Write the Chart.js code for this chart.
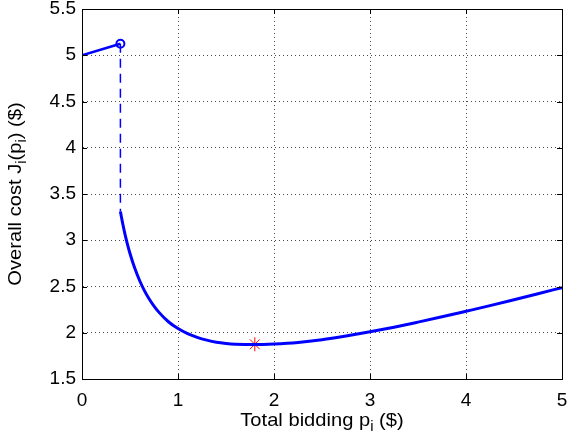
<!DOCTYPE html>
<html>
<head>
<meta charset="utf-8">
<script src="https://cdn.jsdelivr.net/npm/chart.js@4.4.0/dist/chart.umd.min.js"></script>
<style>
  html, body { margin: 0; padding: 0; background: #fff; }
</style>
</head>
<body>
<canvas id="costChart" width="573" height="441"></canvas>
<script>
// tick positions
const xTicks = [0, 1, 2, 3, 4, 5];
const yTicks = [1.5, 2, 2.5, 3, 3.5, 4, 4.5, 5, 5.5];

// left branch, before the jump
const leftX = [0, 0.4];
const leftY = [5.0, 5.125];

// the jump (dashed)
const jumpX = [0.4, 0.4];
const jumpY = [5.125, 3.31];

// right branch of the cost curve
const costX = [0.4, 0.425, 0.45, 0.475, 0.5, 0.55, 0.6, 0.65, 0.7, 0.75, 0.8, 0.9, 1.0, 1.1, 1.2, 1.3, 1.4, 1.5, 1.6, 1.8, 2.0, 2.25, 2.5, 2.75, 3.0, 3.25, 3.5, 3.75, 4.0, 4.25, 4.5, 4.75, 5.0];
const costY = [3.31, 3.175, 3.056, 2.951, 2.857, 2.696, 2.565, 2.456, 2.365, 2.288, 2.223, 2.119, 2.045, 1.99, 1.95, 1.92, 1.898, 1.885, 1.877, 1.872, 1.878, 1.895, 1.925, 1.965, 2.01, 2.06, 2.115, 2.172, 2.232, 2.293, 2.357, 2.422, 2.488];

// optimum marker
const optX = [1.8];
const optY = [1.875];

const FONT = '"Liberation Sans", Arial, Helvetica, sans-serif';

function toPoints(xs, ys) {
    return xs.map((x, i) => ({ x: x, y: ys[i] }));
}

// draws text with subscripts, centred on x, baseline y (slightly widened like the original)
function drawParts(ctx, parts, x, y) {
    const big = '19px ' + FONT, small = '14px ' + FONT;
    const stretch = 1.06;
    let total = 0;
    parts.forEach(p => {
        ctx.font = p[1] ? small : big;
        total += ctx.measureText(p[0]).width;
    });
    ctx.save();
    ctx.translate(x, y);
    ctx.scale(stretch, 1);
    let cx = -total / 2;
    ctx.textAlign = 'left';
    ctx.textBaseline = 'alphabetic';
    parts.forEach(p => {
        ctx.font = p[1] ? small : big;
        ctx.fillText(p[0], cx, p[1] ? 5 : 0);
        cx += ctx.measureText(p[0]).width;
    });
    ctx.restore();
}

const matlabFrame = {
    id: 'matlabFrame',
    afterDatasetsDraw(chart) {
        const ctx = chart.ctx;
        const a = chart.chartArea;
        const xs = chart.scales.x, ys = chart.scales.y;
        ctx.save();
        ctx.strokeStyle = '#000';
        ctx.lineWidth = 1;
        ctx.beginPath();
        xTicks.forEach(v => {
            const px = Math.round(xs.getPixelForValue(v)) + 0.5;
            ctx.moveTo(px, a.bottom); ctx.lineTo(px, a.bottom - 5);
            ctx.moveTo(px, a.top); ctx.lineTo(px, a.top + 5);
        });
        yTicks.forEach(v => {
            const py = Math.round(ys.getPixelForValue(v)) + 0.5;
            ctx.moveTo(a.left, py); ctx.lineTo(a.left + 5, py);
            ctx.moveTo(a.right, py); ctx.lineTo(a.right - 5, py);
        });
        ctx.stroke();
        ctx.strokeRect(Math.round(a.left) + 0.5, Math.round(a.top) + 0.5,
            Math.round(a.right - a.left), Math.round(a.bottom - a.top));

        ctx.fillStyle = '#000';
        drawParts(ctx, [['Total bidding p', false], ['i', true], [' ($)', false]],
            (a.left + a.right) / 2, 426);
        ctx.translate(21, (a.top + a.bottom) / 2);
        ctx.rotate(-Math.PI / 2);
        drawParts(ctx, [['Overall cost J', false], ['i', true], ['(p', false], ['i', true], [') ($)', false]], 0, 0);
        ctx.restore();
    }
};

new Chart(document.getElementById('costChart'), {
    type: 'scatter',
    data: {
        datasets: [
            {
                data: toPoints(leftX, leftY),
                showLine: true,
                borderColor: '#0000ff',
                borderWidth: 2.5,
                pointRadius: 0
            },
            {
                data: toPoints(jumpX, jumpY),
                showLine: true,
                borderColor: '#0000ff',
                borderWidth: 1.5,
                borderDash: [9, 6],
                pointRadius: 0
            },
            {
                data: toPoints(costX, costY),
                showLine: true,
                borderColor: '#0000ff',
                borderWidth: 3,
                cubicInterpolationMode: 'monotone',
                pointRadius: 0
            },
            {
                data: [{ x: leftX[1], y: leftY[1] }],
                pointStyle: 'circle',
                pointRadius: 4,
                borderWidth: 2,
                borderColor: '#0000ff',
                backgroundColor: 'rgba(0,0,0,0)'
            },
            {
                data: toPoints(optX, optY),
                pointStyle: 'star',
                pointRadius: 7,
                borderWidth: 1,
                borderColor: '#ff0000',
                backgroundColor: '#ff0000'
            }
        ]
    },
    options: {
        responsive: false,
        animation: false,
        layout: { padding: { left: 0, right: 11, top: 9, bottom: 0 } },
        plugins: { legend: { display: false }, tooltip: { enabled: false } },
        scales: {
            x: {
                type: 'linear',
                min: 0, max: 5,
                afterBuildTicks: s => { s.ticks = xTicks.map(v => ({ value: v })); },
                afterFit: s => { s.height = 62; s.paddingLeft = 0; s.paddingRight = 0; },
                grid: { color: 'rgba(0,0,0,0.7)', drawTicks: false },
                border: { display: true, color: '#000', dash: [1, 3] },
                ticks: { color: '#000', padding: 10, font: { family: FONT, size: 19 },
                    callback: v => String(v) }
            },
            y: {
                type: 'linear',
                min: 1.5, max: 5.5,
                afterBuildTicks: s => { s.ticks = yTicks.map(v => ({ value: v })); },
                afterFit: s => { s.width = 82; s.paddingTop = 0; s.paddingBottom = 0; },
                grid: { color: 'rgba(0,0,0,0.7)', drawTicks: false },
                border: { display: true, color: '#000', dash: [1, 3] },
                ticks: { color: '#000', padding: 6, font: { family: FONT, size: 19, lineHeight: 1 },
                    callback: v => String(v) }
            }
        }
    },
    plugins: [matlabFrame]
});
</script>
</body>
</html>
